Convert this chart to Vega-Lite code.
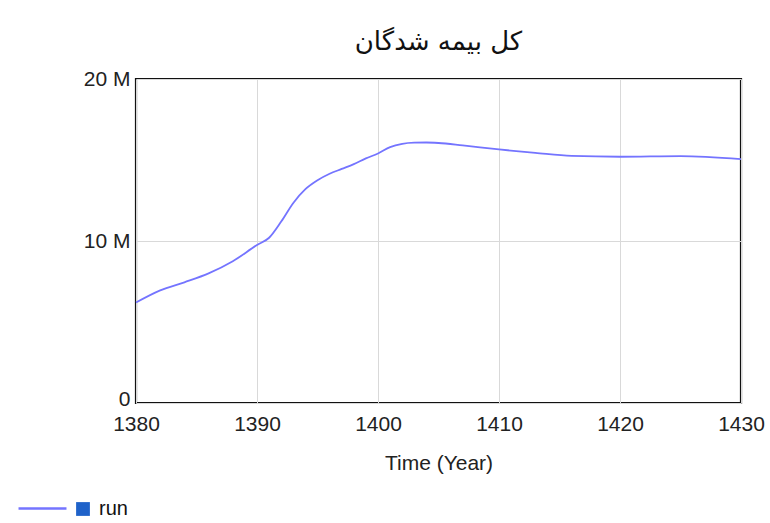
{
  "$schema": "https://vega.github.io/schema/vega-lite/v6.json",
  "width": 605,
  "height": 324,
  "autosize": {"type": "none"},
  "padding": {"left": 136, "top": 79, "right": 29, "bottom": 120},
  "background": "white",
  "title": {
    "text": "کل بیمه شدگان",
    "font": "DejaVu Sans",
    "fontSize": 26,
    "fontWeight": "normal",
    "color": "#111",
    "anchor": "middle",
    "offset": 13
  },
  "data": {
    "values": [
      {"year": 1380, "value": 6.2, "series": "run"},
      {"year": 1382, "value": 6.95, "series": "run"},
      {"year": 1384, "value": 7.45, "series": "run"},
      {"year": 1386, "value": 8.0, "series": "run"},
      {"year": 1388, "value": 8.75, "series": "run"},
      {"year": 1390, "value": 9.75, "series": "run"},
      {"year": 1391, "value": 10.2, "series": "run"},
      {"year": 1392, "value": 11.2, "series": "run"},
      {"year": 1393, "value": 12.35, "series": "run"},
      {"year": 1394, "value": 13.2, "series": "run"},
      {"year": 1395, "value": 13.75, "series": "run"},
      {"year": 1396, "value": 14.15, "series": "run"},
      {"year": 1397, "value": 14.45, "series": "run"},
      {"year": 1398, "value": 14.75, "series": "run"},
      {"year": 1399, "value": 15.1, "series": "run"},
      {"year": 1400, "value": 15.4, "series": "run"},
      {"year": 1401, "value": 15.8, "series": "run"},
      {"year": 1402, "value": 16.0, "series": "run"},
      {"year": 1403, "value": 16.07, "series": "run"},
      {"year": 1404, "value": 16.08, "series": "run"},
      {"year": 1405, "value": 16.05, "series": "run"},
      {"year": 1407, "value": 15.9, "series": "run"},
      {"year": 1410, "value": 15.65, "series": "run"},
      {"year": 1413, "value": 15.44, "series": "run"},
      {"year": 1416, "value": 15.25, "series": "run"},
      {"year": 1420, "value": 15.2, "series": "run"},
      {"year": 1425, "value": 15.24, "series": "run"},
      {"year": 1430, "value": 15.05, "series": "run"}
    ]
  },
  "encoding": {
    "x": {
      "field": "year",
      "type": "quantitative",
      "scale": {"domain": [1380, 1430], "nice": false, "zero": false},
      "axis": {
        "title": "Time (Year)",
        "values": [1380, 1390, 1400, 1410, 1420, 1430],
        "format": "d",
        "labelPadding": 10,
        "titlePadding": 18,
        "labelFlush": false
      }
    },
    "y": {
      "field": "value",
      "type": "quantitative",
      "scale": {"domain": [0, 20], "nice": false},
      "axis": {
        "title": null,
        "values": [0, 10, 20],
        "labelExpr": "datum.value == 0 ? '0' : datum.value + ' M'",
        "labelOffset": {"condition": {"test": "datum.value == 0", "value": -4}, "value": 0},
        "labelPadding": 6
      }
    }
  },
  "layer": [
    {
      "mark": {"type": "line", "interpolate": "monotone", "strokeWidth": 1.8},
      "encoding": {
        "color": {
          "field": "series",
          "type": "nominal",
          "scale": {"range": ["#7474ff"]},
          "legend": {
            "orient": "none",
            "legendX": -119,
            "legendY": 404,
            "title": null,
            "symbolType": "stroke",
            "symbolSize": 2300,
            "symbolStrokeWidth": 2.5,
            "symbolStrokeColor": "#5050f5",
            "labelExpr": "''",
            "padding": 0
          }
        }
      }
    },
    {
      "mark": {"type": "point", "filled": true, "opacity": 0},
      "encoding": {
        "fill": {
          "field": "series",
          "type": "nominal",
          "scale": {"range": ["#1f62c9"]},
          "legend": {
            "orient": "none",
            "legendX": -63,
            "legendY": 420,
            "title": null,
            "symbolType": "square",
            "symbolSize": 190,
            "symbolOpacity": 1,
            "symbolStrokeWidth": 0,
            "labelFontSize": 20,
            "labelFont": "Liberation Sans",
            "labelColor": "#111",
            "labelOffset": 6,
            "padding": 0
          }
        }
      }
    }
  ],
  "config": {
    "view": {"stroke": "#111", "strokeWidth": 2.2},
    "axis": {
      "domain": false,
      "ticks": false,
      "grid": true,
      "gridColor": "#d9d9d9",
      "gridWidth": 1,
      "labelFont": "Liberation Sans",
      "labelFontSize": 21,
      "labelColor": "#222",
      "titleFont": "Liberation Sans",
      "titleFontSize": 21,
      "titleFontWeight": "normal",
      "titleColor": "#222"
    }
  }
}
